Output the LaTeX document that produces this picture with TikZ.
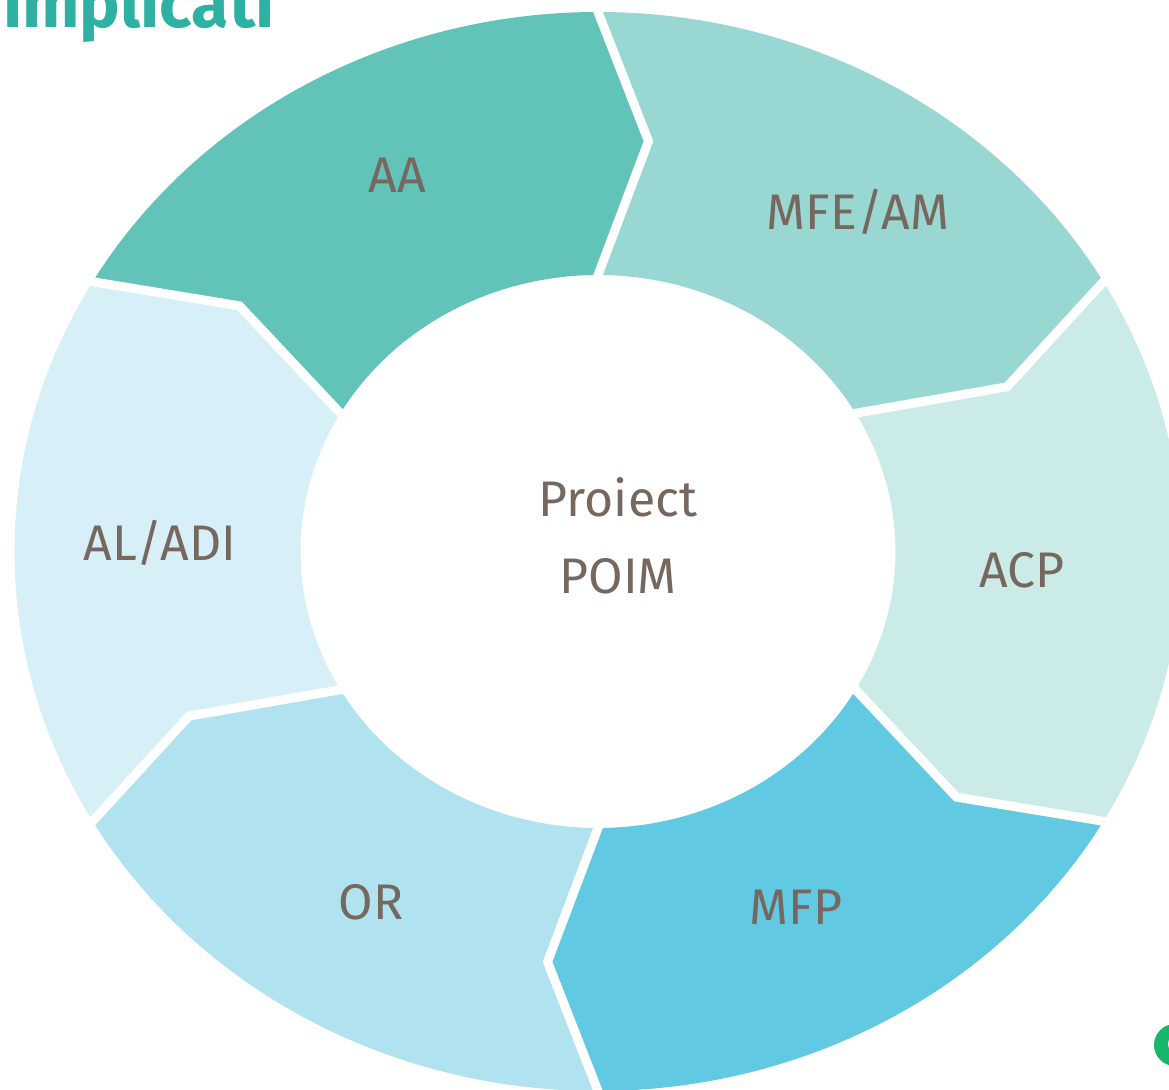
\documentclass[tikz,border=0pt]{standalone}
\usepackage{fontspec}
\usetikzlibrary{calc}
\setmainfont{Fira Sans}
\definecolor{cAA}{RGB}{98,195,185}
\definecolor{cMFE}{RGB}{152,215,210}
\definecolor{cACP}{RGB}{203,235,232}
\definecolor{cMFP}{RGB}{98,201,226}
\definecolor{cOR}{RGB}{176,227,239}
\definecolor{cAL}{RGB}{215,240,247}
\definecolor{txt}{RGB}{118,104,95}
\definecolor{ttl}{RGB}{46,176,162}
\definecolor{grn}{RGB}{20,184,104}
\tikzset{
  lbl/.style={text=txt, font=\fontsize{50}{77}\selectfont, inner sep=0pt, align=center},
  gapline/.style={draw=white, line width=9pt, line join=miter}
}
\begin{document}
\begin{tikzpicture}[x=1pt,y=1pt]
\useasboundingbox (0,0) rectangle (1169,1089);
\clip (0,0) rectangle (1169,1089);
\fill[white] (0,0) rectangle (1169,1089);
\coordinate (C) at (598,537.5);
% ring segments, clockwise
\foreach \a/\col in {150/cAA, 90/cMFE, 30/cACP, -30/cMFP, -90/cOR, -150/cAL}{
  \pgfmathsetmacro\b{\a-60}
  \pgfmathsetmacro\ta{\a-6.5}
  \pgfmathsetmacro\tb{\b-6.5}
  \fill[\col] ({598+583.5*cos(\a)},{537.5+539.5*sin(\a)})
    arc[start angle=\a, end angle=\b, x radius=583.5, y radius=539.5]
    -- ({598+446*cos(\tb)},{537.5+413*sin(\tb)})
    -- ({598+297.5*cos(\b)},{537.5+276.5*sin(\b)})
    arc[start angle=\b, end angle=\a, x radius=297.5, y radius=276.5]
    -- ({598+446*cos(\ta)},{537.5+413*sin(\ta)})
    -- cycle;
}
% white gaps between segments
\foreach \a in {150, 90, 30, -30, -90, -150}{
  \pgfmathsetmacro\ta{\a-6.5}
  \coordinate (o) at ({598+583.5*cos(\a)},{537.5+539.5*sin(\a)});
  \coordinate (t) at ({598+446*cos(\ta)},{537.5+413*sin(\ta)});
  \coordinate (i) at ({598+297.5*cos(\a)},{537.5+276.5*sin(\a)});
  \draw[gapline] ($(t)!1.2!(o)$) -- (t) -- ($(t)!1.2!(i)$);
}
% labels
\node[lbl] (aa) at (397,914) {AA};
\node[lbl] (mfe) at (858,877) {MFE/AM};
\node[lbl] (acp) at (1022,519) {ACP};
\node[lbl] (mfp) at (796,182) {MFP};
\node[lbl] (or) at (371,187) {OR};
\node[lbl] (al) at (160,546) {AL/ADI};
\node[lbl] (center) at (618,553) {Proiect\\POIM};
% title fragment
\node[anchor=base west, inner sep=0pt, text=ttl, font=\bfseries\fontsize{68}{80}\selectfont] (title) at (3,1061) {implicati};
% green logo fragment
\fill[grn] (1175,44) circle[radius=21];
\fill[white] (1177,45) circle[radius=9];
\end{tikzpicture}
\end{document}
